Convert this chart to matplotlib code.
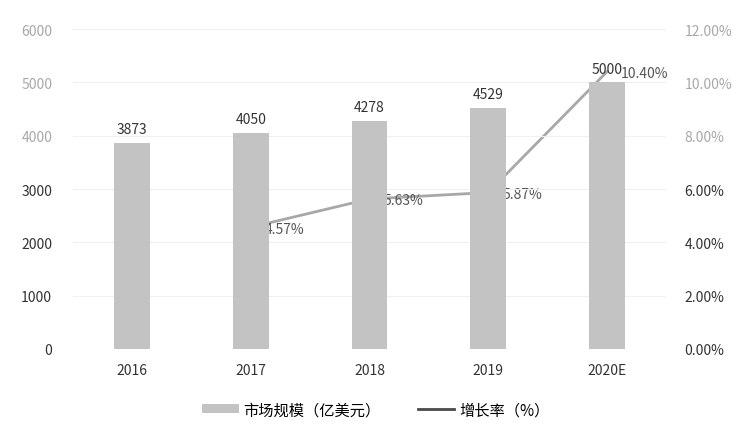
import matplotlib
matplotlib.use('Agg')
import matplotlib.pyplot as plt
from matplotlib.ticker import FuncFormatter
from matplotlib.lines import Line2D

plt.rcParams['font.family'] = ['Noto Sans CJK SC', 'DejaVu Sans']

years = ['2016', '2017', '2018', '2019', '2020E']
market = [3873, 4050, 4278, 4529, 5000]          # 市场规模（亿美元）
growth_years = ['2017', '2018', '2019', '2020E']
growth = [4.57, 5.63, 5.87, 10.40]               # 增长率（%）

bar_color = '#c3c3c3'
line_color = '#a8a8a8'
text_dark = '#333333'

fig = plt.figure(figsize=(7.37, 4.31), dpi=100)
ax = fig.add_axes([0.099, 0.188, 0.805, 0.742])
ax2 = ax.twinx()

x = list(range(len(years)))
gx = [years.index(y) for y in growth_years]

# line sits behind the bars like in the original
ax.set_zorder(2)
ax.patch.set_visible(False)
ax2.set_zorder(1)

ax2.plot(gx, growth, color=line_color, lw=2.0)
bars = ax.bar(x, market, width=0.3, color=bar_color, label='市场规模（亿美元）')

for xi, v in zip(x, market):
    ax.annotate(str(v), (xi, v), xytext=(0, 5), textcoords='offset points',
                ha='center', va='bottom', fontsize=10, color=text_dark)
for xi, v in zip(gx, growth):
    ax2.annotate('{:.2f}%'.format(v), (xi, v), xytext=(10, -1), textcoords='offset points',
                 ha='left', va='center', fontsize=10, color='#555555')

ax.set_ylim(0, 6000)
ax.set_yticks(range(0, 6001, 1000))
ax2.set_ylim(0, 12)
ax2.set_yticks(range(0, 13, 2))
ax2.yaxis.set_major_formatter(FuncFormatter(lambda v, p: '{:.2f}%'.format(v)))
ax.set_xlim(-0.5, len(years) - 0.5)
ax.set_xticks(x)
ax.set_xticklabels(years)

ax.grid(axis='y', color='#f0f0f0', lw=0.8)
ax.set_axisbelow(True)

for a in (ax, ax2):
    for s in a.spines.values():
        s.set_visible(False)
    a.tick_params(length=0, labelsize=10, colors=text_dark)
ax.tick_params(axis='y', pad=15)
ax2.tick_params(axis='y', pad=13)
ax.tick_params(axis='x', pad=10)

# faded upper tick labels, as in the scan
for t in ax.get_yticklabels()[4:]:
    t.set_color('#a8a8a8')
for t in ax2.get_yticklabels()[4:]:
    t.set_color('#a8a8a8')

# legend line shows darker in the original
ln_handle = Line2D([], [], color='#4a4a4a', lw=2.0, label='增长率（%）')
fig.legend(handles=[bars, ln_handle], loc='center', bbox_to_anchor=(0.51, 0.047),
           ncol=2, frameon=False, fontsize=11, handlelength=2.4,
           handleheight=0.5, columnspacing=2.4, handletextpad=0.3)

fig.savefig('out.png', dpi=100, facecolor='white')
